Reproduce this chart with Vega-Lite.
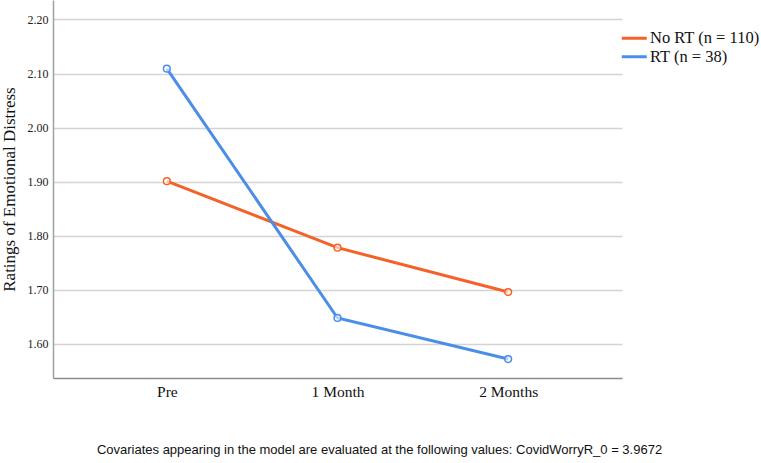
{
  "$schema": "https://vega.github.io/schema/vega-lite/v6.json",
  "autosize": {"type": "none"},
  "width": 569,
  "height": 378,
  "padding": {"left": 53, "top": 0, "right": 139, "bottom": 85},
  "background": "white",
  "config": {"view": {"stroke": null}},
  "title": {
    "text": "Covariates appearing in the model are evaluated at the following values: CovidWorryR_0 = 3.9672",
    "orient": "bottom",
    "anchor": "middle",
    "frame": "group",
    "dx": 42,
    "offset": 44,
    "font": "Liberation Sans",
    "fontSize": 13,
    "fontWeight": "normal",
    "color": "#111111"
  },
  "data": {
    "values": [
      {"time": "Pre", "group": "No RT (n = 110)", "value": 1.901},
      {"time": "1 Month", "group": "No RT (n = 110)", "value": 1.778},
      {"time": "2 Months", "group": "No RT (n = 110)", "value": 1.696},
      {"time": "Pre", "group": "RT (n = 38)", "value": 2.109},
      {"time": "1 Month", "group": "RT (n = 38)", "value": 1.648},
      {"time": "2 Months", "group": "RT (n = 38)", "value": 1.572}
    ]
  },
  "encoding": {
    "x": {
      "field": "time",
      "type": "ordinal",
      "sort": ["Pre", "1 Month", "2 Months"],
      "scale": {"type": "point", "padding": 0.667},
      "axis": {
        "title": null,
        "labelAngle": 0,
        "labelFont": "Liberation Serif",
        "labelFontSize": 15.5,
        "labelColor": "#111111",
        "labelPadding": 6,
        "ticks": false,
        "domainColor": "#8c8c8c",
        "domainWidth": 1.5,
        "grid": false
      }
    },
    "y": {
      "field": "value",
      "type": "quantitative",
      "scale": {"domain": [1.537, 2.236], "nice": false, "zero": false},
      "axis": {
        "title": "Ratings of Emotional Distress",
        "titleFont": "Liberation Serif",
        "titleFontSize": 17,
        "titleFontWeight": "normal",
        "titleColor": "#111111",
        "titlePadding": 9,
        "values": [1.6, 1.7, 1.8, 1.9, 2.0, 2.1, 2.2],
        "format": ".2f",
        "labelFont": "Liberation Serif",
        "labelFontSize": 12,
        "labelColor": "#222222",
        "labelPadding": 5,
        "ticks": false,
        "domainColor": "#a0a0a0",
        "domainWidth": 1.5,
        "grid": true,
        "gridColor": "#d4d4d4",
        "gridWidth": 1.5
      }
    },
    "color": {
      "field": "group",
      "type": "nominal",
      "scale": {"domain": ["No RT (n = 110)", "RT (n = 38)"], "range": ["#f4622a", "#4a8ee8"]},
      "legend": {
        "title": null,
        "orient": "none",
        "legendX": 573,
        "legendY": 30,
        "symbolType": "M-2,0H2",
        "symbolSize": 156,
        "symbolStrokeWidth": 3,
        "labelFont": "Liberation Serif",
        "labelFontSize": 16.5,
        "labelColor": "#111111",
        "labelOffset": 7.5,
        "rowPadding": 1.5
      }
    }
  },
  "layer": [
    {"mark": {"type": "line", "strokeWidth": 3}},
    {"mark": {"type": "point", "filled": false, "size": 45, "strokeWidth": 1.5, "fill": "white", "fillOpacity": 0.6, "opacity": 1}}
  ]
}
